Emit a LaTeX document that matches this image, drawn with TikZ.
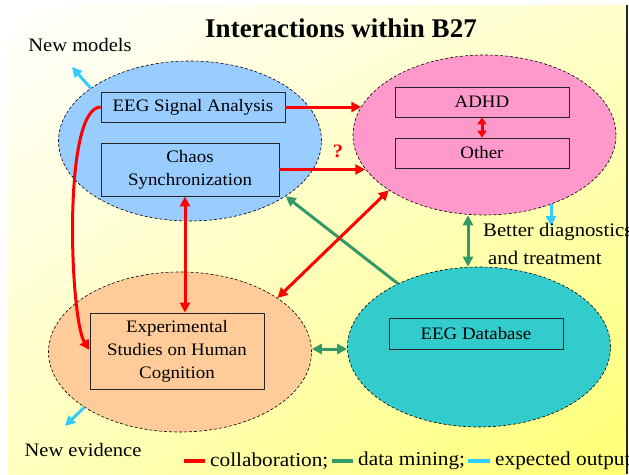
\documentclass[tikz,border=0pt]{standalone}
\usepackage{fontspec}
\setmainfont[FakeStretch=1.08]{Liberation Serif}
\newfontfamily\titlefont{Liberation Serif}
\usetikzlibrary{arrows.meta}
\usetikzlibrary{shapes.geometric}
\usetikzlibrary{shadings}
\usetikzlibrary{calc}

\definecolor{blobblue}{RGB}{153,204,255}
\definecolor{blobpink}{RGB}{255,153,204}
\definecolor{blobtan}{RGB}{255,204,153}
\definecolor{blobteal}{RGB}{51,204,204}
\definecolor{collabred}{RGB}{255,0,0}
\definecolor{minegreen}{RGB}{51,153,102}
\definecolor{outcyan}{RGB}{51,204,255}

\begin{document}
\begin{tikzpicture}[x=1pt, y=-1pt,
        >={Triangle[length=10pt,width=10pt]},
        every node/.style={font=\fontsize{17.5}{23}\selectfont},
        blob/.style={ellipse, draw=black, line width=0.6pt, dash pattern=on 3pt off 2pt,
                     minimum width=263pt, minimum height=160pt},
        topic/.style={draw=black!85, line width=0.8pt, inner sep=0pt, align=center},
        caption/.style={inner sep=0pt, font=\fontsize{19}{23}\selectfont},
        legendtext/.style={inner sep=0pt, anchor=west, font=\fontsize{19.7}{23}\selectfont},
        collab/.style={collabred, line width=3pt},
        mine/.style={minegreen, line width=3pt},
        expect/.style={outcyan, line width=3pt}]
            \useasboundingbox (0,0) rectangle (629,474);
            % background of the slide
            \fill[white] (0,0) rectangle (629,474);
            \shade[upper left=white, upper right=yellow!20, lower left=yellow!25, lower right=yellow!55]
                (8,5) rectangle (625.5,474);
            \fill[black!85] (625.5,5) rectangle (628,474);

            \node[font=\titlefont\bfseries\fontsize{27}{30}\selectfont] (title) at (341,28) {Interactions within B27};

            % the four groups
            \node[blob, fill=blobblue] (chaosblob) at (190,141) {};
            \node[blob, fill=blobpink] (clinic) at (484.5,135) {};
            \node[blob, fill=blobtan] (cogn) at (180,352) {};
            \node[blob, fill=blobteal] (dbblob) at (479,347) {};

            \node[topic, fill=blobblue, minimum width=184pt, minimum height=30pt] (sig) at (193,107) {EEG Signal Analysis};
            \node[topic, fill=blobblue, minimum width=178pt, minimum height=53pt] (chaos) at (190,169.5) {Chaos\\Synchronization};
            \node[topic, fill=blobpink, minimum width=174pt, minimum height=30pt] (adhd) at (482,102) {ADHD};
            \node[topic, fill=blobpink, minimum width=174pt, minimum height=30pt] (other) at (482,153) {Other};
            \node[topic, fill=blobtan, minimum width=174pt, minimum height=76pt] (exper) at (177,351) {Experimental\\Studies on Human\\Cognition};
            \node[topic, fill=blobteal, minimum width=174pt, minimum height=31pt] (db) at (476,333.5) {EEG Database};

            % data mining
            \draw[mine, ->] (dbblob.142) -- (chaosblob.-30);
            \draw[mine, <->] ([xshift=-16.5pt]clinic.south) -- ([xshift=-16.5pt]clinic.south |- dbblob.north);
            \draw[mine, <->] ([yshift=3pt]cogn.east) -- ([yshift=3pt]cogn.east -| dbblob.west);

            % collaboration
            \draw[collab, ->] (sig.east) -- (sig.east -| clinic.167);
            \draw[collab, ->] (chaos.east) -- (chaos.east -| clinic.196);
            \node[text=collabred, font=\bfseries\fontsize{19}{23}\selectfont] (query) at (338,151) {?};
            \draw[collab, {Triangle[length=7pt,width=9pt]}-{Triangle[length=7pt,width=9pt]}] (adhd.south) -- (other.north);
            \draw[collab, <->] ([xshift=-5pt]chaos.south) -- ([xshift=-5pt]chaos.south |- exper.north);
            \draw[collab, <->] (cogn.29) -- (clinic.210);
            \draw[collab, ->] (sig.west) .. controls (62,108) and (70,320) .. ([yshift=1pt]exper.west);

            % expected output
            \coordinate (modtip) at (72,67);
            \coordinate (evtip) at (65,426);
            \coordinate (diagtip) at (551,226);
            \draw[expect, ->] (chaosblob.152) -- (modtip);
            \draw[expect, ->] (cogn.210) -- (evtip);
            \draw[expect, ->] (diagtip |- clinic.-46) -- (diagtip);

            \node[caption] (newmod) at (80,45) {New models};
            \node[caption] (newev) at (83,450) {New evidence};
            \node[caption, font=\fontsize{19.2}{23}\selectfont, anchor=west] (better) at (483,232) {Better diagnostics};
            \node[caption, font=\fontsize{19.2}{23}\selectfont, anchor=west] (treat) at (488,258) {and treatment};

            % legend
            \node[legendtext] (lgcollab) at (210,461) {collaboration;};
            \node[legendtext] (lgmine) at (358,461) {data mining;};
            \node[legendtext] (lgout) at (495,461) {expected output};
            \draw[collabred, line width=4pt] ([xshift=-26pt]lgcollab.west) -- ([xshift=-5pt]lgcollab.west);
            \draw[minegreen, line width=4pt] ([xshift=-26pt]lgmine.west) -- ([xshift=-5pt]lgmine.west);
            \draw[outcyan, line width=4pt] ([xshift=-27pt]lgout.west) -- ([xshift=-5pt]lgout.west);
        \end{tikzpicture}
\end{document}
